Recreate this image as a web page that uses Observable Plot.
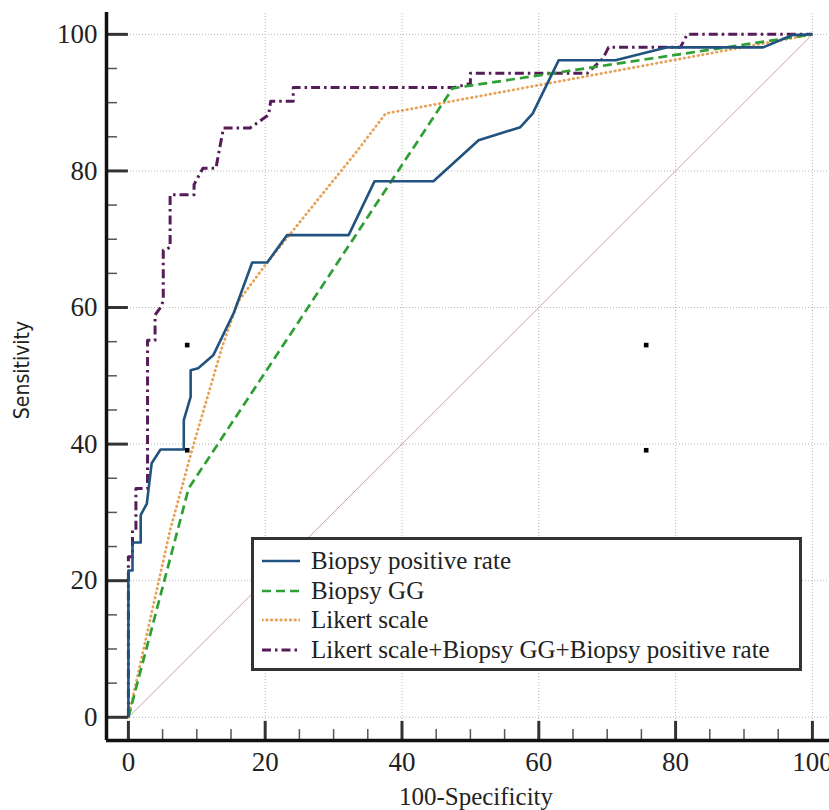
<!DOCTYPE html>
<html><head><meta charset="utf-8">
<script src="https://cdn.jsdelivr.net/npm/d3@7"></script>
<script src="https://cdn.jsdelivr.net/npm/@observablehq/plot@0.6"></script>
<style>
body{margin:0;background:#fff;}
#wrap{position:relative;width:829px;height:810px;overflow:hidden;}
.t{position:absolute;font-family:"Liberation Serif","Times New Roman",serif;color:#222;white-space:nowrap;}
#xlab{left:476px;top:797px;transform:translate(-50%,-50%);font-size:25px;}
#ylab{left:22px;top:370px;transform:translate(-50%,-50%) rotate(-90deg);font-family:"Liberation Sans Narrow","DejaVu Sans Condensed","Liberation Sans",sans-serif;font-size:21px;}
#legend{position:absolute;left:251px;top:537px;width:545px;height:128px;border:3px solid #333;background:#fff;box-sizing:content-box;font-family:"Liberation Serif","Times New Roman",serif;font-size:25px;color:#222;}
.row{position:absolute;left:0;height:30px;display:flex;align-items:center;}
.row svg{margin-left:8px;margin-right:11px;flex:none;}
svg text{font-family:"Liberation Serif","Times New Roman",serif;}
</style></head><body><div id="wrap"></div>
<script>
// ---- data ----
const bprX = [0,0,0.6,0.6,1.8,1.8,2.7,3.4,4.7,8.1,8.1,9.1,9.1,10.2,12.4,15.4,18.1,20.3,23.2,32.2,36,44.6,51.2,57.3,59.1,62.9,71.2,78.8,92.8,97.1,100];
const bprY = [0,21.5,21.5,25.6,25.6,29.6,31.3,37.2,39.2,39.2,43.5,46.9,50.8,51.1,53,59.2,66.6,66.6,70.6,70.6,78.5,78.5,84.5,86.4,88.4,96.2,96.2,98.1,98.1,99.9,100];
const ggX = [0,8.8,47.4,100];
const ggY = [0,33.5,92.1,100];
const likX = [0,6.1,9.4,13.7,16,20.3,33.5,37.6,100];
const likY = [0,27.4,39.5,54.2,60.8,66.6,83,88.4,100];
const comboX = [0,0,0.6,0.6,1.1,1.1,2.8,2.8,3.9,3.9,4.7,5.1,5.1,6.1,6.1,9.6,9.6,10.9,12.8,13.9,17.8,20.5,20.8,24.1,24.1,47.5,50,50,67.1,69.4,70.2,80.7,81.7,100];
const comboY = [0,23.5,23.5,27.4,27.4,33.5,33.5,55.2,55.2,58.9,60,61,68.4,68.8,76.5,76.5,78,80.4,80.4,86.3,86.3,88.2,90.2,90.2,92.2,92.2,92.8,94.3,94.3,96.5,98.1,98.1,100,100];
const diagX = [0,100];
const diagY = [0,100];
const markX = [8.6,8.6,75.7,75.7];
const markY = [54.5,39.1,54.5,39.1];
const seriesNames = ["Biopsy positive rate","Biopsy GG","Likert scale","Likert scale+Biopsy GG+Biopsy positive rate"];
const xMajor = [0,20,40,60,80,100];
const yMajor = [0,20,40,60,80,100];
const xMinor = d3.range(5,100,5).filter(v=>v%20!==0);
const yMinor = d3.range(5,100,5).filter(v=>v%20!==0);
const xGrid = [20,40,60,80,100];
const yGrid = [0,20,40,60,80,100];

// ---- styles ----
const colors = ["#22527f","#2e9f34","#e6a257","#561c5a"];
const dashes = [null,"9,5","0.5,4.2","9,4,2.5,4"];
const widths = [2.6,2.7,2.8,3];
const caps = ["butt","butt","round","butt"];
const serif = "Liberation Serif";

const xDomain = [-3.2,102.5];
const yDomain = [-3.4,103.2];
const toPts = (xs,ys)=>xs.map((x,i)=>({x,y:ys[i]}));
const series = [toPts(bprX,bprY),toPts(ggX,ggY),toPts(likX,likY),toPts(comboX,comboY)];

const plot = Plot.plot({
  width:829,height:810,
  marginLeft:106,marginRight:0,marginTop:12,marginBottom:70,
  x:{domain:xDomain},
  y:{domain:yDomain},
  style:{fontFamily:serif,fontSize:"27px",color:"#222",background:"#fff",overflow:"visible"},
  marks:[
    Plot.ruleX(xGrid,{y1:yDomain[0],y2:yDomain[1],stroke:"#b8b8b8",strokeWidth:1,strokeDasharray:"1,2"}),
    Plot.ruleY(yGrid,{x1:xDomain[0],x2:xDomain[1],stroke:"#b8b8b8",strokeWidth:1,strokeDasharray:"1,2"}),
    Plot.line(toPts(diagX,diagY),{x:"x",y:"y",stroke:"#c9a3a3",strokeWidth:1}),
    ...series.map((s,i)=>Plot.line(s,{x:"x",y:"y",stroke:colors[i],strokeWidth:widths[i],strokeDasharray:dashes[i],strokeLinecap:caps[i],strokeLinejoin:"round"})).reverse(),
    Plot.dot(toPts(markX,markY),{x:"x",y:"y",symbol:"square",r:2.6,fill:"#000",stroke:"none"}),
    // ticks
    Plot.ruleY(yMajor,{x1:xDomain[0],x2:0,stroke:"#333",strokeWidth:3}),
    Plot.ruleY(yMinor,{x1:xDomain[0],x2:xDomain[0]+1.6,stroke:"#555",strokeWidth:1.5}),
    Plot.ruleX(xMajor,{y1:yDomain[0],y2:yDomain[0]+2.8,stroke:"#333",strokeWidth:3}),
    Plot.ruleX(xMinor,{y1:yDomain[0],y2:yDomain[0]+1.6,stroke:"#555",strokeWidth:1.5}),
    // axis lines
    Plot.ruleX([xDomain[0]],{y1:yDomain[0],y2:yDomain[1],stroke:"#111",strokeWidth:3.5}),
    Plot.ruleY([yDomain[0]],{x1:xDomain[0],x2:xDomain[1],stroke:"#111",strokeWidth:3.5}),
    Plot.axisX({ticks:xMajor,tickSize:0,tickPadding:11,anchor:"bottom",label:null,fontSize:27,fontFamily:serif}),
    Plot.axisY({ticks:yMajor,tickSize:0,tickPadding:9,anchor:"left",label:null,fontSize:27,fontFamily:serif})
  ]
});
const wrap = document.getElementById("wrap");
wrap.appendChild(plot);

const xl = document.createElement("div"); xl.className="t"; xl.id="xlab"; xl.textContent="100-Specificity"; wrap.appendChild(xl);
const yl = document.createElement("div"); yl.className="t"; yl.id="ylab"; yl.textContent="Sensitivity"; wrap.appendChild(yl);

const lg = document.createElement("div"); lg.id="legend";
seriesNames.forEach((n,i)=>{
  const r = document.createElement("div"); r.className="row"; r.style.top=(6+i*29.7)+"px";
  const ns="http://www.w3.org/2000/svg";
  const sv=document.createElementNS(ns,"svg"); sv.setAttribute("width","38"); sv.setAttribute("height","10");
  const ln=document.createElementNS(ns,"line");
  ln.setAttribute("x1","0");ln.setAttribute("x2","38");ln.setAttribute("y1","5");ln.setAttribute("y2","5");
  ln.setAttribute("stroke",colors[i]);ln.setAttribute("stroke-width",String(widths[i]));
  if(dashes[i]) ln.setAttribute("stroke-dasharray",dashes[i]);
  ln.setAttribute("stroke-linecap",caps[i]);
  sv.appendChild(ln); r.appendChild(sv);
  const sp=document.createElement("span"); sp.textContent=n; r.appendChild(sp);
  lg.appendChild(r);
});
wrap.appendChild(lg);
</script></body></html>
